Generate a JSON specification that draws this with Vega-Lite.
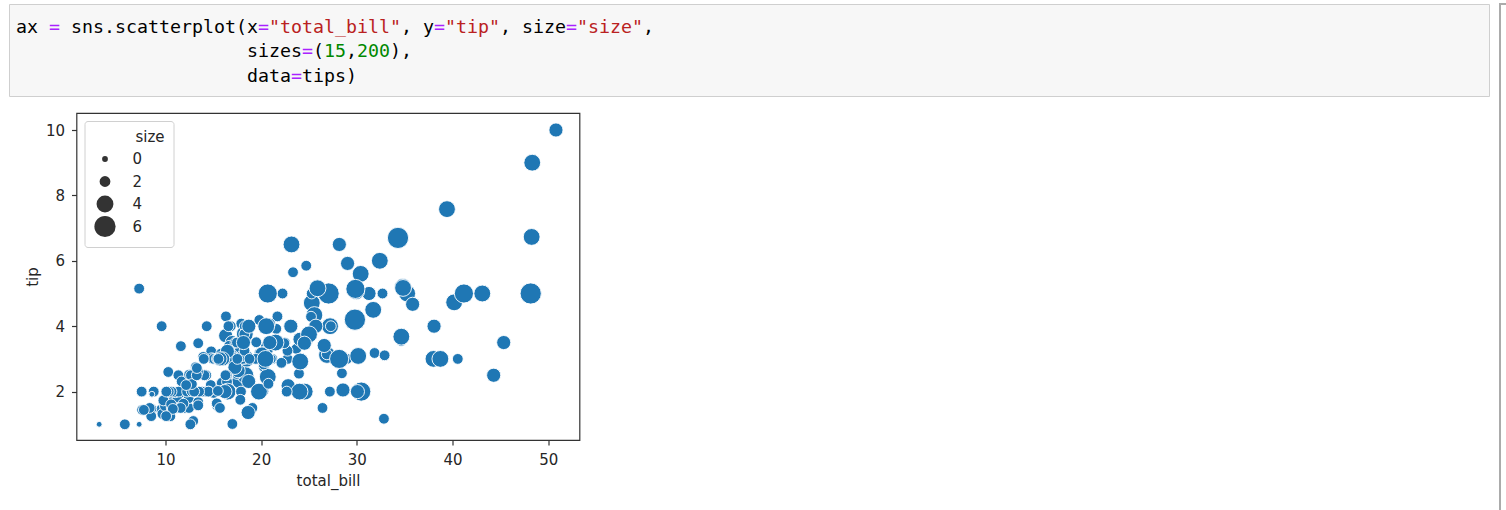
{
 "$schema": "https://vega.github.io/schema/vega-lite/v6.json",
 "background": "white",
 "padding": {"left": 8, "top": 3, "right": 0, "bottom": 0},
 "config": {
  "view": {"stroke": null},
  "axis": {"labelFont": "DejaVu Sans", "labelFontSize": 15, "labelColor": "#262626", "titleFont": "DejaVu Sans", "titleFontSize": 15, "titleFontWeight": "normal", "titleColor": "#262626", "tickColor": "#333333", "tickSize": 5, "tickWidth": 1.2, "domain": false, "grid": false, "labelPadding": 7, "titlePadding": 6},
  "axisY": {"titlePadding": 5}
 },
 "spacing": 9,
 "resolve": {"scale": {"size": "independent", "color": "independent"}, "legend": {"size": "independent", "color": "independent"}},
 "hconcat": [
  {
   "spacing": 15,
   "resolve": {"scale": {"size": "independent", "color": "independent"}, "legend": {"size": "independent", "color": "independent"}},
   "vconcat": [
    {
     "width": 1480, "height": 92,
     "data": {"values": [
      {"line": 1, "col": 0, "tok": "ax", "kind": "plain"},
      {"line": 1, "col": 3, "tok": "=", "kind": "op"},
      {"line": 1, "col": 5, "tok": "sns.scatterplot(x", "kind": "plain"},
      {"line": 1, "col": 22, "tok": "=", "kind": "op"},
      {"line": 1, "col": 23, "tok": "\"total_bill\"", "kind": "str"},
      {"line": 1, "col": 35, "tok": ", y", "kind": "plain"},
      {"line": 1, "col": 38, "tok": "=", "kind": "op"},
      {"line": 1, "col": 39, "tok": "\"tip\"", "kind": "str"},
      {"line": 1, "col": 44, "tok": ", size", "kind": "plain"},
      {"line": 1, "col": 50, "tok": "=", "kind": "op"},
      {"line": 1, "col": 51, "tok": "\"size\"", "kind": "str"},
      {"line": 1, "col": 57, "tok": ",", "kind": "plain"},
      {"line": 2, "col": 21, "tok": "sizes", "kind": "plain"},
      {"line": 2, "col": 26, "tok": "=", "kind": "op"},
      {"line": 2, "col": 27, "tok": "(", "kind": "plain"},
      {"line": 2, "col": 28, "tok": "15", "kind": "num"},
      {"line": 2, "col": 30, "tok": ",", "kind": "plain"},
      {"line": 2, "col": 31, "tok": "200", "kind": "num"},
      {"line": 2, "col": 34, "tok": "),", "kind": "plain"},
      {"line": 3, "col": 21, "tok": "data", "kind": "plain"},
      {"line": 3, "col": 25, "tok": "=", "kind": "op"},
      {"line": 3, "col": 26, "tok": "tips)", "kind": "plain"}
     ]},
     "mark": {"type": "text", "align": "left", "baseline": "alphabetic", "font": "DejaVu Sans Mono", "fontSize": 18.27},
     "encoding": {
      "x": {"field": "col", "type": "quantitative", "scale": {"domain": [-0.63636, 133.90909], "nice": false, "zero": false}, "axis": null},
      "y": {"field": "line", "type": "quantitative", "scale": {"domain": [-0.18367, 3.57143], "nice": false, "zero": false, "reverse": true}, "axis": null},
      "text": {"field": "tok"},
      "color": {"field": "kind", "type": "nominal", "scale": {"domain": ["plain", "op", "str", "num"], "range": ["#000000", "#aa22ff", "#ba2121", "#008800"]}, "legend": null}
     },
     "view": {"fill": "#f7f7f7", "stroke": "#cfcfcf", "strokeWidth": 1}
    },
    {
     "spacing": 14.5,
     "resolve": {"scale": {"size": "independent"}, "legend": {"size": "independent"}},
     "hconcat": [
      {
       "width": 1, "height": 327,
       "data": {"values": []},
       "mark": "point",
       "encoding": {}
      },
      {
       "width": 503, "height": 327,
       "view": {"stroke": "#333333", "strokeWidth": 1.2},
       "layer": [
        {
         "data": {"values": []},
         "mark": {"type": "circle", "color": "#333333", "opacity": 1, "stroke": "#ffffff", "strokeWidth": 0.9},
         "encoding": {
          "size": {"field": "size", "type": "quantitative", "scale": {"domain": [1, 6], "range": [33.75, 450], "clamp": true},
           "legend": {"values": [0, 2, 4, 6], "orient": "top-left", "offset": 7.5, "title": "size", "titleAnchor": "end", "titlePadding": 3,
            "titleFont": "DejaVu Sans", "titleFontSize": 15, "titleFontWeight": "normal", "titleColor": "#262626",
            "labelFont": "DejaVu Sans", "labelFontSize": 15, "labelColor": "#262626", "labelOffset": 16, "labelExpr": "datum.label + '\u2800\u2800'",
            "symbolType": "circle", "symbolFillColor": "#333333", "symbolStrokeColor": "#ffffff", "symbolStrokeWidth": 0.9, "symbolOpacity": 1,
            "gridAlign": "all", "clipHeight": 22,
            "fillColor": "rgba(255,255,255,0.8)", "strokeColor": "#d0d0d0", "cornerRadius": 3, "padding": 9, "rowPadding": 0.5}}
         }
        },
        {
         "data": {"values": [
{"total_bill":16.99,"tip":1.01,"size":2},{"total_bill":10.34,"tip":1.66,"size":3},{"total_bill":21.01,"tip":3.5,"size":3},{"total_bill":23.68,"tip":3.31,"size":2},{"total_bill":24.59,"tip":3.61,"size":4},{"total_bill":25.29,"tip":4.71,"size":4},{"total_bill":8.77,"tip":2.0,"size":2},{"total_bill":26.88,"tip":3.12,"size":4},{"total_bill":15.04,"tip":1.96,"size":2},{"total_bill":14.78,"tip":3.23,"size":2},
{"total_bill":10.27,"tip":1.71,"size":2},{"total_bill":35.26,"tip":5.0,"size":4},{"total_bill":15.42,"tip":1.57,"size":2},{"total_bill":18.43,"tip":3.0,"size":4},{"total_bill":14.83,"tip":3.02,"size":2},{"total_bill":21.58,"tip":3.92,"size":2},{"total_bill":10.33,"tip":1.67,"size":3},{"total_bill":16.29,"tip":3.71,"size":3},{"total_bill":16.97,"tip":3.5,"size":3},{"total_bill":20.65,"tip":3.35,"size":3},
{"total_bill":17.92,"tip":4.08,"size":2},{"total_bill":20.29,"tip":2.75,"size":2},{"total_bill":15.77,"tip":2.23,"size":2},{"total_bill":39.42,"tip":7.58,"size":4},{"total_bill":19.82,"tip":3.18,"size":2},{"total_bill":17.81,"tip":2.34,"size":4},{"total_bill":13.37,"tip":2.0,"size":2},{"total_bill":12.69,"tip":2.0,"size":2},{"total_bill":21.7,"tip":4.3,"size":2},{"total_bill":19.65,"tip":3.0,"size":2},
{"total_bill":9.55,"tip":1.45,"size":2},{"total_bill":18.35,"tip":2.5,"size":4},{"total_bill":15.06,"tip":3.0,"size":2},{"total_bill":20.69,"tip":2.45,"size":4},{"total_bill":17.78,"tip":3.27,"size":2},{"total_bill":24.06,"tip":3.6,"size":3},{"total_bill":16.31,"tip":2.0,"size":3},{"total_bill":16.93,"tip":3.07,"size":3},{"total_bill":18.69,"tip":2.31,"size":3},{"total_bill":31.27,"tip":5.0,"size":3},
{"total_bill":16.04,"tip":2.24,"size":3},{"total_bill":17.46,"tip":2.54,"size":2},{"total_bill":13.94,"tip":3.06,"size":2},{"total_bill":9.68,"tip":1.32,"size":2},{"total_bill":30.4,"tip":5.6,"size":4},{"total_bill":18.29,"tip":3.0,"size":2},{"total_bill":22.23,"tip":5.0,"size":2},{"total_bill":32.4,"tip":6.0,"size":4},{"total_bill":28.55,"tip":2.05,"size":3},{"total_bill":18.04,"tip":3.0,"size":2},
{"total_bill":12.54,"tip":2.5,"size":2},{"total_bill":10.29,"tip":2.6,"size":2},{"total_bill":34.81,"tip":5.2,"size":4},{"total_bill":9.94,"tip":1.56,"size":2},{"total_bill":25.56,"tip":4.34,"size":4},{"total_bill":19.49,"tip":3.51,"size":2},{"total_bill":38.01,"tip":3.0,"size":4},{"total_bill":26.41,"tip":1.5,"size":2},{"total_bill":11.24,"tip":1.76,"size":2},{"total_bill":48.27,"tip":6.73,"size":4},
{"total_bill":20.29,"tip":3.21,"size":2},{"total_bill":13.81,"tip":2.0,"size":2},{"total_bill":11.02,"tip":1.98,"size":2},{"total_bill":18.29,"tip":3.76,"size":4},{"total_bill":17.59,"tip":2.64,"size":3},{"total_bill":20.08,"tip":3.15,"size":3},{"total_bill":16.45,"tip":2.47,"size":2},{"total_bill":3.07,"tip":1.0,"size":1},{"total_bill":20.23,"tip":2.01,"size":2},{"total_bill":15.01,"tip":2.09,"size":2},
{"total_bill":12.02,"tip":1.97,"size":2},{"total_bill":17.07,"tip":3.0,"size":3},{"total_bill":26.86,"tip":3.14,"size":2},{"total_bill":25.28,"tip":5.0,"size":2},{"total_bill":14.73,"tip":2.2,"size":2},{"total_bill":10.51,"tip":1.25,"size":2},{"total_bill":17.92,"tip":3.08,"size":2},{"total_bill":27.2,"tip":4.0,"size":4},{"total_bill":22.76,"tip":3.0,"size":2},{"total_bill":17.29,"tip":2.71,"size":2},
{"total_bill":19.44,"tip":3.0,"size":2},{"total_bill":16.66,"tip":3.4,"size":2},{"total_bill":10.07,"tip":1.83,"size":1},{"total_bill":32.68,"tip":5.0,"size":2},{"total_bill":15.98,"tip":2.03,"size":2},{"total_bill":34.83,"tip":5.17,"size":4},{"total_bill":13.03,"tip":2.0,"size":2},{"total_bill":18.28,"tip":4.0,"size":2},{"total_bill":24.71,"tip":5.85,"size":2},{"total_bill":21.16,"tip":3.0,"size":2},
{"total_bill":28.97,"tip":3.0,"size":2},{"total_bill":22.49,"tip":3.5,"size":2},{"total_bill":5.75,"tip":1.0,"size":2},{"total_bill":16.32,"tip":4.3,"size":2},{"total_bill":22.75,"tip":3.25,"size":2},{"total_bill":40.17,"tip":4.73,"size":4},{"total_bill":27.28,"tip":4.0,"size":2},{"total_bill":12.03,"tip":1.5,"size":2},{"total_bill":21.01,"tip":3.0,"size":2},{"total_bill":12.46,"tip":1.5,"size":2},
{"total_bill":11.35,"tip":2.5,"size":2},{"total_bill":15.38,"tip":3.0,"size":2},{"total_bill":44.3,"tip":2.5,"size":3},{"total_bill":22.42,"tip":3.48,"size":2},{"total_bill":20.92,"tip":4.08,"size":2},{"total_bill":15.36,"tip":1.64,"size":2},{"total_bill":20.49,"tip":4.06,"size":2},{"total_bill":25.21,"tip":4.29,"size":2},{"total_bill":18.24,"tip":3.76,"size":2},{"total_bill":14.31,"tip":4.0,"size":2},
{"total_bill":14.0,"tip":3.0,"size":2},{"total_bill":7.25,"tip":1.0,"size":1},{"total_bill":38.07,"tip":4.0,"size":3},{"total_bill":23.95,"tip":2.55,"size":2},{"total_bill":25.71,"tip":4.0,"size":3},{"total_bill":17.31,"tip":3.5,"size":2},{"total_bill":29.93,"tip":5.07,"size":4},{"total_bill":10.65,"tip":1.5,"size":2},{"total_bill":12.43,"tip":1.8,"size":2},{"total_bill":24.08,"tip":2.92,"size":4},
{"total_bill":11.69,"tip":2.31,"size":2},{"total_bill":13.42,"tip":1.68,"size":2},{"total_bill":14.26,"tip":2.5,"size":2},{"total_bill":15.95,"tip":2.0,"size":2},{"total_bill":12.48,"tip":2.52,"size":2},{"total_bill":29.8,"tip":4.2,"size":6},{"total_bill":8.52,"tip":1.48,"size":2},{"total_bill":14.52,"tip":2.0,"size":2},{"total_bill":11.38,"tip":2.0,"size":2},{"total_bill":22.82,"tip":2.18,"size":3},
{"total_bill":19.08,"tip":1.5,"size":2},{"total_bill":20.27,"tip":2.83,"size":2},{"total_bill":11.17,"tip":1.5,"size":2},{"total_bill":12.26,"tip":2.0,"size":2},{"total_bill":18.26,"tip":3.25,"size":2},{"total_bill":8.51,"tip":1.25,"size":2},{"total_bill":10.33,"tip":2.0,"size":2},{"total_bill":14.15,"tip":2.0,"size":2},{"total_bill":16.0,"tip":2.0,"size":2},{"total_bill":13.16,"tip":2.75,"size":2},
{"total_bill":17.47,"tip":3.5,"size":2},{"total_bill":34.3,"tip":6.7,"size":6},{"total_bill":41.19,"tip":5.0,"size":5},{"total_bill":27.05,"tip":5.0,"size":6},{"total_bill":16.43,"tip":2.3,"size":2},{"total_bill":8.35,"tip":1.5,"size":2},{"total_bill":18.64,"tip":1.36,"size":3},{"total_bill":11.87,"tip":1.63,"size":2},{"total_bill":9.78,"tip":1.73,"size":2},{"total_bill":7.51,"tip":2.0,"size":2},
{"total_bill":14.07,"tip":2.5,"size":2},{"total_bill":13.13,"tip":2.0,"size":2},{"total_bill":17.26,"tip":2.74,"size":3},{"total_bill":24.55,"tip":2.0,"size":4},{"total_bill":19.77,"tip":2.0,"size":4},{"total_bill":29.85,"tip":5.14,"size":5},{"total_bill":48.17,"tip":5.0,"size":6},{"total_bill":25.0,"tip":3.75,"size":4},{"total_bill":13.39,"tip":2.61,"size":2},{"total_bill":16.49,"tip":2.0,"size":4},
{"total_bill":21.5,"tip":3.5,"size":4},{"total_bill":12.66,"tip":2.5,"size":2},{"total_bill":16.21,"tip":2.0,"size":3},{"total_bill":13.81,"tip":2.0,"size":2},{"total_bill":17.51,"tip":3.0,"size":2},{"total_bill":24.52,"tip":3.48,"size":3},{"total_bill":20.76,"tip":2.24,"size":2},{"total_bill":31.71,"tip":4.5,"size":4},{"total_bill":10.59,"tip":1.61,"size":2},{"total_bill":10.63,"tip":2.0,"size":2},
{"total_bill":50.81,"tip":10.0,"size":3},{"total_bill":15.81,"tip":3.16,"size":2},{"total_bill":7.25,"tip":5.15,"size":2},{"total_bill":31.85,"tip":3.18,"size":2},{"total_bill":16.82,"tip":4.0,"size":2},{"total_bill":32.9,"tip":3.11,"size":2},{"total_bill":17.89,"tip":2.0,"size":2},{"total_bill":14.48,"tip":2.0,"size":2},{"total_bill":9.6,"tip":4.0,"size":2},{"total_bill":34.63,"tip":3.55,"size":2},
{"total_bill":34.65,"tip":3.68,"size":4},{"total_bill":23.33,"tip":5.65,"size":2},{"total_bill":45.35,"tip":3.5,"size":3},{"total_bill":23.17,"tip":6.5,"size":4},{"total_bill":40.55,"tip":3.0,"size":2},{"total_bill":20.69,"tip":5.0,"size":5},{"total_bill":20.9,"tip":3.5,"size":3},{"total_bill":30.46,"tip":2.0,"size":5},{"total_bill":18.15,"tip":3.5,"size":3},{"total_bill":23.1,"tip":4.0,"size":3},
{"total_bill":15.69,"tip":1.5,"size":2},{"total_bill":19.81,"tip":4.19,"size":2},{"total_bill":28.44,"tip":2.56,"size":2},{"total_bill":15.48,"tip":2.02,"size":2},{"total_bill":16.58,"tip":4.0,"size":2},{"total_bill":7.56,"tip":1.44,"size":2},{"total_bill":10.34,"tip":2.0,"size":2},{"total_bill":43.11,"tip":5.0,"size":4},{"total_bill":13.0,"tip":2.0,"size":2},{"total_bill":13.51,"tip":2.0,"size":2},
{"total_bill":18.71,"tip":4.0,"size":3},{"total_bill":12.74,"tip":2.01,"size":2},{"total_bill":13.0,"tip":2.0,"size":2},{"total_bill":16.4,"tip":2.5,"size":2},{"total_bill":20.53,"tip":4.0,"size":4},{"total_bill":16.47,"tip":3.23,"size":3},{"total_bill":26.59,"tip":3.41,"size":3},{"total_bill":38.73,"tip":3.0,"size":4},{"total_bill":24.27,"tip":2.03,"size":2},{"total_bill":12.76,"tip":2.23,"size":2},
{"total_bill":30.06,"tip":2.0,"size":3},{"total_bill":25.89,"tip":5.16,"size":4},{"total_bill":48.33,"tip":9.0,"size":4},{"total_bill":13.27,"tip":2.5,"size":2},{"total_bill":28.17,"tip":6.5,"size":3},{"total_bill":12.9,"tip":1.1,"size":2},{"total_bill":28.15,"tip":3.0,"size":5},{"total_bill":11.59,"tip":1.5,"size":2},{"total_bill":7.74,"tip":1.44,"size":2},{"total_bill":30.14,"tip":3.09,"size":4},
{"total_bill":12.16,"tip":2.2,"size":2},{"total_bill":13.42,"tip":3.48,"size":2},{"total_bill":8.58,"tip":1.92,"size":1},{"total_bill":15.98,"tip":3.0,"size":3},{"total_bill":13.42,"tip":1.58,"size":2},{"total_bill":16.27,"tip":2.5,"size":2},{"total_bill":10.09,"tip":2.0,"size":2},{"total_bill":20.45,"tip":3.0,"size":4},{"total_bill":13.28,"tip":2.72,"size":2},{"total_bill":22.12,"tip":2.88,"size":2},
{"total_bill":24.01,"tip":2.0,"size":4},{"total_bill":15.69,"tip":3.0,"size":3},{"total_bill":11.61,"tip":3.39,"size":2},{"total_bill":10.77,"tip":1.47,"size":2},{"total_bill":15.53,"tip":3.0,"size":2},{"total_bill":10.07,"tip":1.25,"size":2},{"total_bill":12.6,"tip":1.0,"size":2},{"total_bill":32.83,"tip":1.17,"size":2},{"total_bill":35.83,"tip":4.67,"size":3},{"total_bill":29.03,"tip":5.92,"size":3},
{"total_bill":27.18,"tip":2.0,"size":2},{"total_bill":22.67,"tip":2.0,"size":2},{"total_bill":17.82,"tip":1.75,"size":2},{"total_bill":18.78,"tip":3.0,"size":2}
         ]},
         "mark": {"type": "circle", "color": "#1f77b4", "opacity": 1, "stroke": "#ffffff", "strokeWidth": 0.9},
         "encoding": {
          "x": {"field": "total_bill", "type": "quantitative", "title": "total_bill", "scale": {"domain": [0.70, 53.27], "nice": false, "zero": false}, "axis": {"values": [10, 20, 30, 40, 50]}},
          "y": {"field": "tip", "type": "quantitative", "title": "tip", "scale": {"domain": [0.52, 10.52], "nice": false, "zero": false}, "axis": {"values": [2, 4, 6, 8, 10]}},
          "size": {"field": "size", "type": "quantitative", "scale": {"domain": [1, 6], "range": [33.75, 450], "clamp": true}, "legend": null}
         }
        }
       ]
      }
     ]
    }
   ]
  },
  {
   "width": 0, "height": 507,
   "data": {"values": []},
   "mark": "point",
   "encoding": {},
   "view": {"stroke": "#ababab", "strokeWidth": 2}
  }
 ]
}
